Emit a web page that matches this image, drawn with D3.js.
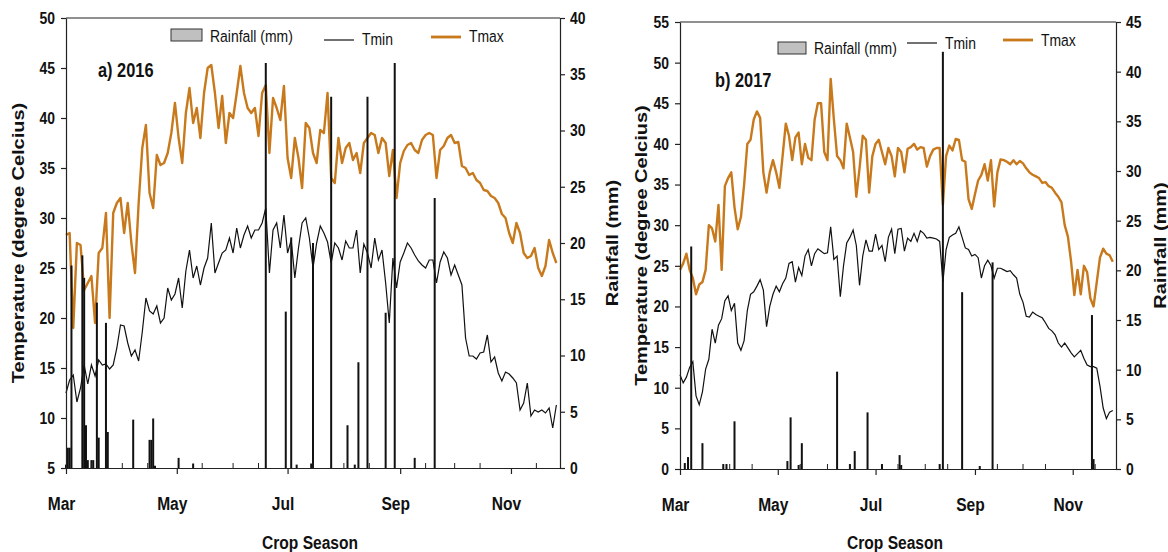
<!DOCTYPE html>
<html>
<head>
<meta charset="utf-8">
<script src="https://cdn.jsdelivr.net/npm/d3@7"></script>
<style>
  body { margin: 0; background: #fff; }
  svg text { font-family: "Liberation Sans", Arial, sans-serif; fill: #111; }
  .tick text { font-size: 17px; font-weight: bold; }
  .axis path, .axis line { stroke: #222; stroke-width: 1.2; }
  .title { font-size: 20px; font-weight: bold; }
  .legend { font-size: 17px; }
</style>
</head>
<body>
<svg id="chart" width="1168" height="552"></svg>
<script>
// daily weather, one reading every 2 days from 1 March
var dayStep = 2;

var tmax2016 = [28.3, 28.5, 19, 27.5, 27.3, 22.8, 23.5, 24.2, 19.5, 26.5,
  27, 30.5, 20, 30.5, 31.5, 32, 28.5, 31.5, 27.5, 24.5,
  31.5, 37, 39.3, 32.5, 31, 36.3, 35.3, 35.5, 36.5, 38.5,
  41.5, 38, 35.5, 40.5, 43, 39.5, 41, 38, 42.5, 45,
  45.3, 42.5, 39, 42.2, 37.5, 40.5, 40, 42.5, 45.2, 42.5,
  41, 40.5, 41, 38.2, 42.5, 43.3, 36.5, 42, 41, 39.8,
  43.2, 36, 34, 38, 36, 33, 39.5, 39, 36.5, 35.5,
  38.8, 38.5, 42.5, 34, 33.5, 38, 35.5, 37, 37.5, 35.8,
  36.5, 34.5, 37.5, 38, 38.5, 38.3, 36.5, 38, 37.5, 34.2,
  36.8, 32, 35.5, 36.7, 37.3, 37.5, 36.8, 36.5, 37.8, 38.3,
  38.5, 38.3, 34, 36.8, 37.2, 38, 38.3, 37.5, 37.6, 35.2,
  35, 34.3, 34.5, 33.8, 33.5, 32.8, 32.7, 32.2, 32, 31.5,
  30.4, 30, 28.5, 27.5, 29.5, 28.5, 26.5, 26, 26.2, 27,
  25, 24.2, 25.2, 27.8, 26.5, 25.5];

var tmin2016 = [12.5, 13.8, 14.3, 11.6, 13, 15.3, 13.4, 15.3, 14.2, 15.8,
  15.3, 15.4, 14.9, 15.3, 17, 19.3, 19.2, 17.5, 16.2, 16.8,
  15.7, 18.6, 22, 20.7, 20.4, 21.2, 19.5, 20, 23, 21.8,
  22.4, 24, 21, 24.7, 26.8, 24, 25.2, 23.3, 25, 26,
  29.5, 24.5, 25.5, 26.5, 26.8, 28, 26.5, 29, 27, 28.3,
  29.2, 28, 28.8, 28.8, 29.5, 31, 24.5, 28.8, 29.5, 27,
  30.3, 26.5, 27.8, 24, 27, 29.5, 30, 28, 25, 27.5,
  29.2, 28.5, 27.6, 25.5, 27.5, 27, 25.8, 27.7, 27, 27,
  28.8, 24.5, 27.4, 26.5, 25, 28, 25.8, 26.8, 23.5, 19.5,
  26, 23, 25.6, 26.5, 27.5, 27, 26.3, 25.7, 25.3, 25,
  25.8, 25.8, 23.5, 25.6, 26.6, 26, 24.3, 25.3, 24.3, 23.3,
  18, 16.2, 16.2, 15.9, 16.5, 16.6, 18.3, 15.6, 16.1, 14.5,
  13.7, 14.6, 14.4, 14, 13.5, 10.8, 11.5, 13.5, 10.2, 10.8,
  10.6, 10.8, 10.5, 11, 9, 11.3];

// rainy days only (day after 1 March, mm)
var rainDays2016 = [0, 1, 2, 3, 9, 10, 11, 12, 14, 15, 17, 18, 22, 23, 37, 46, 47, 48, 49, 62,
  70, 110, 121, 124, 127, 135, 136, 146, 155, 159, 161, 166, 176, 181, 192, 203];
var rain2016 = [0.3, 1.8, 1.8, 18, 18.9, 16.9, 3.8, 0.7, 0.7, 0.7, 14.7, 2.7, 12.9, 3.2, 4.3, 2.5, 2.5, 4.4, 0.2, 0.9,
  0.4, 36, 13.9, 20.5, 0.3, 0.4, 20, 33, 3.8, 0.3, 9.4, 33, 13.8, 36, 0.9, 24];

var tmax2017 = [24.5, 25.3, 26.5, 24.5, 23.5, 21.5, 22.7, 23, 24.5, 30,
  29.6, 28, 32.5, 24.5, 34.8, 35.8, 36.5, 32.2, 29.5, 31,
  35, 40, 40.5, 43, 44, 43.2, 36.5, 34, 36.5, 38,
  36.5, 34.6, 38.5, 42.5, 41, 38, 40.8, 41.4, 37.5, 40,
  38.3, 38, 43, 45, 45, 39, 38, 48, 43, 38.5,
  38, 37, 42.5, 40.8, 39, 33.5, 37, 41, 40.5, 34,
  38.5, 40, 40.5, 39, 37.5, 39.5, 38.5, 36, 39.5, 39,
  36.5, 39.4, 39.6, 40, 39.3, 39.6, 39.5, 37.2, 38.5, 39.3,
  39.5, 39.5, 32.5, 38.5, 39.8, 39.2, 40.6, 40.5, 38, 37.8,
  33.2, 32, 33.8, 35.5, 36.2, 37.5, 35.5, 38, 32.3, 36.5,
  38.1, 38, 37.8, 37.5, 38, 37.5, 37.9, 37.6, 37, 36.5,
  36.2, 36, 35.8, 35.2, 35.3, 34.8, 34.6, 34, 33.5, 32.8,
  30, 28.6, 25.5, 21.4, 24.5, 21.5, 25, 24.2, 21, 20,
  23, 26, 27.1, 26.5, 26.3, 25.5];

var tmin2017 = [11.6, 10.6, 11.3, 12.5, 13.2, 9, 7.9, 9.5, 12.3, 13.5,
  17.2, 15.5, 17.7, 18.5, 20.7, 21.3, 19.5, 20.4, 15.5, 14.6,
  15.8, 19.5, 21.5, 21.8, 22.5, 23.3, 22, 17.5, 20, 21.5,
  22.5, 21.8, 22.8, 23.5, 25.3, 25.5, 23, 24.8, 23.8, 26.2,
  27, 25, 26.5, 27.1, 26.8, 26.5, 26.6, 29.8, 25.8, 26.2,
  21.2, 25, 27.8, 28.5, 29.4, 27.5, 22.6, 26.2, 28.2, 26.8,
  26.8, 28.9, 27, 27.5, 25.5, 28.5, 29.5, 26.5, 29.5, 29.6,
  26.8, 28.4, 28, 29, 28, 29.3, 29, 28.4, 28.5, 28.4,
  28.3, 28, 23, 27, 28.5, 28.8, 29, 29.8, 28.5, 27.2,
  27, 26.2, 26.4, 26, 23.5, 25, 25.7, 25, 23.5, 24.7,
  24.7, 24.5, 24.3, 24.4, 23.9, 23.5, 21.5, 20.5, 18.8, 18.7,
  19.3, 19, 18.8, 18.6, 18, 17.3, 17, 16.5, 15.5, 15,
  15.5, 14.9, 14.3, 13.8, 14.2, 14.6, 13.6, 12.8, 12.6, 12.6,
  12.4, 10.2, 7.5, 6.2, 7, 7.2];

var rainDays2017 = [3, 5, 7, 14, 27, 29, 34, 67, 69, 74, 76, 98, 106, 109, 117, 126, 137, 138, 162, 164,
  176, 187, 195, 257, 258];
var rain2017 = [0.6, 1.2, 22.4, 2.6, 0.5, 0.5, 4.8, 0.8, 5.2, 0.4, 2.6, 9.8, 0.5, 1.8, 5.7, 0.5, 1.4, 0.4, 0.5, 42,
  17.8, 0.3, 20.8, 15.5, 1];

var tempTicks2016 = d3.range(5, 51, 5);
var rainTicks2016 = d3.range(0, 41, 5);
var tempTicks2017 = d3.range(0, 56, 5);
var rainTicks2017 = d3.range(0, 46, 5);

var seasonDays = 272;
var tmaxColor = "#c8791c";
var sq = 0.82;   // the original figure is squeezed sideways, text too

var svg = d3.select("#chart");

drawPanel({
  start: new Date(2016, 2, 1), tmax: tmax2016, tmin: tmin2016,
  rainDays: rainDays2016, rain: rain2016,
  tempTicks: tempTicks2016, rainTicks: rainTicks2016,
  left: 66, right: 560, top: 18, bottom: 468,
  label: "a) 2016", labelX: 98, labelY: 77,
  legend: { boxX: 171, boxY: 29, boxW: 31, textY: 42, tminX: 324, tminY: 40, tminTextY: 45, tmaxX: 431, tmaxY: 37, tmaxTextY: 42 },
  titleLX: 18, titleRX: 612
});

drawPanel({
  start: new Date(2017, 2, 1), tmax: tmax2017, tmin: tmin2017,
  rainDays: rainDays2017, rain: rain2017,
  tempTicks: tempTicks2017, rainTicks: rainTicks2017,
  left: 680, right: 1116, top: 22, bottom: 469,
  label: "b) 2017", labelX: 715, labelY: 87,
  legend: { boxX: 778, boxY: 42, boxW: 28, textY: 54, tminX: 907, tminY: 43, tminTextY: 49, tmaxX: 1003, tmaxY: 40, tmaxTextY: 46 },
  titleLX: 641, titleRX: 1160
});

// squeezed text at (x, y)
function sqText(g, x, y, txt) {
  return g.append("text")
    .attr("transform", `translate(${x}, ${y}) scale(${sq}, 1)`)
    .text(txt);
}

function drawPanel(p) {
  var g = svg.append("g");

  var x = d3.scaleTime()
    .domain([p.start, d3.timeDay.offset(p.start, seasonDays)])
    .range([p.left, p.right]);
  var yT = d3.scaleLinear()
    .domain(d3.extent(p.tempTicks))
    .range([p.bottom, p.top]);
  var yR = d3.scaleLinear()
    .domain(d3.extent(p.rainTicks))
    .range([p.bottom, p.top]);

  var dateOf = i => d3.timeDay.offset(p.start, i * dayStep);

  // box top
  g.append("line")
    .attr("x1", p.left).attr("x2", p.right)
    .attr("y1", p.top).attr("y2", p.top)
    .attr("stroke", "#222").attr("stroke-width", 1.2);

  // lines
  var line = d3.line()
    .x((d, i) => x(dateOf(i)))
    .y(d => yT(d));

  g.append("path").datum(p.tmin)
    .attr("d", line)
    .attr("fill", "none")
    .attr("stroke", "#111")
    .attr("stroke-width", 1.2);

  g.append("path").datum(p.tmax)
    .attr("d", line)
    .attr("fill", "none")
    .attr("stroke", tmaxColor)
    .attr("stroke-width", 2.4)
    .attr("stroke-linejoin", "round");

  // rainfall bars
  g.selectAll(".bar")
    .data(p.rain)
    .enter()
    .append("rect")
    .attr("class", "bar")
    .attr("x", (d, i) => x(d3.timeDay.offset(p.start, p.rainDays[i])) - 1)
    .attr("width", 2)
    .attr("y", d => yR(d))
    .attr("height", d => yR(0) - yR(d))
    .attr("fill", "#111");

  // axes
  var xAxis = d3.axisBottom(x)
    .ticks(d3.timeMonth.every(2))
    .tickFormat(d3.timeFormat("%b"))
    .tickSize(6)
    .tickSizeOuter(0);
  var xg = g.append("g")
    .attr("class", "axis")
    .attr("transform", `translate(0, ${p.bottom})`)
    .call(xAxis);
  xg.selectAll(".tick text")
    .attr("transform", `scale(${sq}, 1)`)
    .attr("y", 29)
    .attr("x", -5 / sq)
    .style("font-size", "19px");

  // half-month minor ticks, pointing in
  var minor = d3.timeDay.range(p.start, d3.timeDay.offset(p.start, seasonDays))
    .filter(d => d.getDate() == 15 || (d.getDate() == 1 && d.getMonth() % 2 == 1));
  g.selectAll(".minor")
    .data(minor)
    .enter()
    .append("line")
    .attr("x1", d => x(d)).attr("x2", d => x(d))
    .attr("y1", p.bottom).attr("y2", p.bottom - 5)
    .attr("stroke", "#222");

  g.append("g")
    .attr("class", "axis")
    .attr("transform", `translate(${p.left}, 0)`)
    .call(d3.axisLeft(yT).tickValues(p.tempTicks).tickSize(5).tickSizeOuter(0))
    .selectAll(".tick text")
    .attr("transform", `scale(${sq}, 1)`)
    .attr("x", -11 / sq);

  g.append("g")
    .attr("class", "axis")
    .attr("transform", `translate(${p.right}, 0)`)
    .call(d3.axisRight(yR).tickValues(p.rainTicks).tickSize(5).tickSizeOuter(0))
    .selectAll(".tick text")
    .attr("transform", `scale(${sq}, 1)`)
    .attr("x", 10 / sq);

  // titles
  var midY = (p.top + p.bottom) / 2;
  g.append("text")
    .attr("class", "title")
    .attr("transform", `translate(${p.titleLX}, ${midY}) scale(${sq}, 1) rotate(-90)`)
    .attr("dy", "0.36em")
    .attr("text-anchor", "middle")
    .text("Temperature (degree Celcius)");
  g.append("text")
    .attr("class", "title")
    .attr("transform", `translate(${p.titleRX}, ${midY}) scale(${sq}, 1) rotate(-90)`)
    .attr("dy", "0.36em")
    .attr("text-anchor", "middle")
    .text("Rainfall (mm)");

  sqText(g, (p.left + p.right) / 2 - 3, 549, "Crop Season")
    .attr("text-anchor", "middle")
    .style("font-size", "19px")
    .style("font-weight", "bold");

  sqText(g, p.labelX, p.labelY, p.label)
    .style("font-size", "20px")
    .style("font-weight", "bold");

  // legend
  var L = p.legend;
  g.append("rect")
    .attr("x", L.boxX).attr("y", L.boxY)
    .attr("width", L.boxW).attr("height", 12)
    .attr("fill", "#c0c0c0").attr("stroke", "#333");
  sqText(g, L.boxX + L.boxW + 8, L.textY, "Rainfall (mm)").attr("class", "legend");
  g.append("line")
    .attr("x1", L.tminX).attr("x2", L.tminX + 30)
    .attr("y1", L.tminY).attr("y2", L.tminY)
    .attr("stroke", "#111").attr("stroke-width", 1.2);
  sqText(g, L.tminX + 38, L.tminTextY, "Tmin").attr("class", "legend");
  g.append("line")
    .attr("x1", L.tmaxX).attr("x2", L.tmaxX + 30)
    .attr("y1", L.tmaxY).attr("y2", L.tmaxY)
    .attr("stroke", tmaxColor).attr("stroke-width", 2.8);
  sqText(g, L.tmaxX + 38, L.tmaxTextY, "Tmax").attr("class", "legend");
}
</script>
</body>
</html>
